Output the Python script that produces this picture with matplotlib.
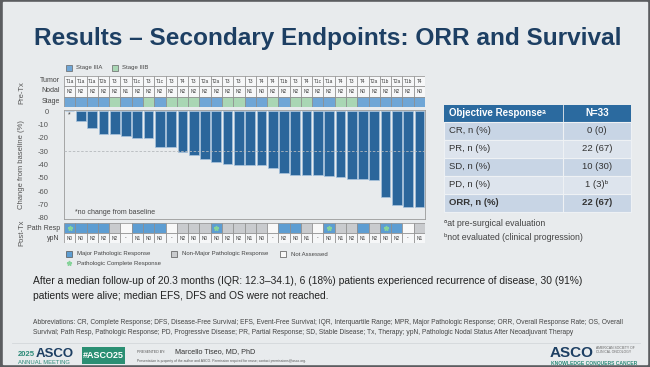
import numpy as np
import matplotlib
matplotlib.use('Agg')
import matplotlib.pyplot as plt
from matplotlib.patches import Rectangle

plt.rcParams['font.family'] = ['Liberation Sans', 'DejaVu Sans']
plt.rcParams['axes.unicode_minus'] = False

# waterfall: best change from baseline (%) per patient
change = [0, -7.5, -12.5, -17, -17, -18.5, -20.5, -20.5, -27, -27, -31, -33,
          -36, -38.5, -39.5, -40.5, -40.5, -40.5, -42.5, -46, -47.5, -47.5,
          -47.5, -48.5, -49.5, -50.5, -50.5, -51.5, -64.5, -70.5, -71.5, -71.5]
tumor = ['T1a', 'T1a', 'T1a', 'T2b', 'T3', 'T3', 'T1c', 'T3', 'T1c', 'T3', 'T4',
         'T3', 'T2a', 'T2a', 'T3', 'T3', 'T3', 'T4', 'T4', 'T1b', 'T3', 'T4',
         'T1c', 'T1a', 'T4', 'T3', 'T4', 'T2a', 'T1b', 'T2a', 'T1b', 'T4']
nodal = ['N2', 'N2', 'N2', 'N2', 'N2', 'N1', 'N2', 'N2', 'N2', 'N2', 'N2',
         'N2', 'N2', 'N2', 'N2', 'N2', 'N1', 'N0', 'N2', 'N2', 'N2', 'N2',
         'N2', 'N2', 'N2', 'N2', 'N0', 'N2', 'N2', 'N2', 'N2', 'N0']
stage = ['IIIA', 'IIIA', 'IIIA', 'IIIA', 'IIIB', 'IIIA', 'IIIA', 'IIIB', 'IIIA',
         'IIIB', 'IIIB', 'IIIB', 'IIIA', 'IIIA', 'IIIB', 'IIIB', 'IIIA', 'IIIA',
         'IIIB', 'IIIA', 'IIIB', 'IIIB', 'IIIA', 'IIIA', 'IIIB', 'IIIB', 'IIIA',
         'IIIA', 'IIIA', 'IIIA', 'IIIA', 'IIIA']
# M = major pathologic response, N = non-major, X = not assessed
path_resp = ['M', 'M', 'M', 'M', 'N', 'X', 'M', 'M', 'M', 'X', 'N', 'N', 'N',
             'M', 'N', 'N', 'N', 'N', 'X', 'M', 'M', 'N', 'X', 'M', 'N', 'N',
             'M', 'N', 'M', 'M', 'X', 'N']
pcr = [1, 0, 0, 0, 0, 0, 0, 0, 0, 0, 0, 0, 0, 1, 0, 0, 0, 0, 0, 0, 0, 0, 0,
       1, 0, 0, 0, 0, 1, 0, 0, 0]
ypn = ['N0', 'N0', 'N2', 'N2', 'N2', '-', 'N1', 'N0', 'N0', '-', 'N2', 'N0',
       'N0', 'N0', 'N2', 'N2', 'N1', 'N0', '-', 'N2', 'N0', 'N1', '-', 'N0',
       'N1', 'N2', 'N1', 'N2', 'N0', 'N2', '-', 'N1']

resp_labels = ['CR, n (%)', 'PR, n (%)', 'SD, n (%)', 'PD, n (%)', 'ORR, n (%)']
resp_values = ['0 (0)', '22 (67)', '10 (30)', '1 (3)\u1d47', '22 (67)']

navy = '#1d3f63'
bar_col = '#2b669b'
stage_cols = {'IIIA': '#6fa6d6', 'IIIB': '#a9d6b4'}
path_cols = {'M': '#5d9dd2', 'N': '#c9cbce', 'X': '#f8f8f8'}
star_col = '#86d39a'
grid_col = '#8c8c8c'
txt = '#3a3a3a'

W, H = 650, 367


def box(x0, y0, x1, y1):
    return [x0 / W, 1 - y1 / H, (x1 - x0) / W, (y1 - y0) / H]


fig = plt.figure(figsize=(6.5, 3.67), dpi=100)
fig.patch.set_facecolor('#5b5d60')

bg = fig.add_axes([0, 0, 1, 1])
bg.set_xlim(0, W)
bg.set_ylim(H, 0)
bg.axis('off')
bg.add_patch(Rectangle((3, 2), 644, 362, color='#e8ebed', zorder=0))

bg.text(327.5, 38, 'Results \u2013 Secondary Endpoints: ORR and Survival', ha='center',
        va='center', fontsize=17.6, fontweight='bold', color=navy)

n = len(change)
xs = np.arange(n)

# --- waterfall ---
ax = fig.add_axes(box(64, 110, 425, 219))
ax.set_facecolor('none')
ax.bar(xs, change, width=0.86, color=bar_col, edgecolor='#a9c4de', linewidth=0.5, zorder=2)
ax.axhline(-30, color='#b5b9bd', linestyle=(0, (3, 2)), linewidth=0.6, zorder=3)
for i, v in enumerate(change):
    if v == 0:
        ax.text(i, -2.5, '*', ha='center', va='center', fontsize=5, color=txt)
ax.set_xlim(-0.5, n - 0.5)
ax.set_ylim(-80.8, 0.8)
ax.set_yticks(np.arange(0, -81, -10))
ax.set_xticks([])
ax.tick_params(axis='y', labelsize=5.5, labelcolor='#555555', length=0, pad=11)
for s in ax.spines.values():
    s.set_color('#9a9a9a')
    s.set_linewidth(0.6)
ax.text(0.03, 0.06, '*no change from baseline', transform=ax.transAxes, fontsize=5,
        color='#444444', va='center')
bg.text(22, 165, 'Change from baseline (%)', rotation=90, ha='center', va='center',
        fontsize=5.5, color='#555555')

# --- pre-treatment table ---
pre = fig.add_axes(box(64, 76, 425, 107))
pre.set_xlim(-0.5, n - 0.5)
pre.set_ylim(3, 0)
pre.axis('off')
for i in range(n):
    pre.add_patch(Rectangle((i - 0.5, 0), 1, 1, facecolor='#f6f7f8', edgecolor=grid_col, lw=0.5))
    pre.add_patch(Rectangle((i - 0.5, 1), 1, 1, facecolor='#f6f7f8', edgecolor=grid_col, lw=0.5))
    pre.add_patch(Rectangle((i - 0.5, 2), 1, 1, facecolor=stage_cols[stage[i]], edgecolor=grid_col, lw=0.5))
    pre.text(i, 0.5, tumor[i], ha='center', va='center', fontsize=3.4, color=txt)
    pre.text(i, 1.5, nodal[i], ha='center', va='center', fontsize=3.4, color=txt)
for lab, y in [('Tumor', 81), ('Nodal', 91), ('Stage', 101.5)]:
    bg.text(60, y, lab, ha='right', va='center', fontsize=5, color='#444444')
bg.text(22, 93, 'Pre-Tx', rotation=90, ha='center', va='center', fontsize=5.5, color='#555555')

bg.add_patch(Rectangle((66, 64.5), 6, 6, facecolor=stage_cols['IIIA'], edgecolor='#666666', lw=0.5))
bg.text(76, 68, 'Stage IIIA', fontsize=4.3, va='center', color='#444444')
bg.add_patch(Rectangle((112, 64.5), 6, 6, facecolor=stage_cols['IIIB'], edgecolor='#666666', lw=0.5))
bg.text(122, 68, 'Stage IIIB', fontsize=4.3, va='center', color='#444444')

# --- post-treatment table ---
post = fig.add_axes(box(64, 223, 425, 243))
post.set_xlim(-0.5, n - 0.5)
post.set_ylim(2, 0)
post.axis('off')
for i in range(n):
    post.add_patch(Rectangle((i - 0.5, 0), 1, 1, facecolor=path_cols[path_resp[i]], edgecolor=grid_col, lw=0.5))
    post.add_patch(Rectangle((i - 0.5, 1), 1, 1, facecolor='#f6f7f8', edgecolor=grid_col, lw=0.5))
    post.text(i, 1.5, ypn[i], ha='center', va='center', fontsize=3.4, color=txt)
pcr_x = [i for i in range(n) if pcr[i]]
post.plot(pcr_x, [0.5] * len(pcr_x), linestyle='none', marker='*', markersize=3.5, color=star_col)
bg.text(60, 228, 'Path Resp', ha='right', va='center', fontsize=5, color='#444444')
bg.text(60, 238, 'ypN', ha='right', va='center', fontsize=5, color='#444444')
bg.text(22, 233, 'Post-Tx', rotation=90, ha='center', va='center', fontsize=5.5, color='#555555')

leg = [(66, path_cols['M'], 'Major Pathologic Response'),
       (171, path_cols['N'], 'Non-Major Pathologic Response'),
       (280, path_cols['X'], 'Not Assessed')]
for x0, c, lab in leg:
    bg.add_patch(Rectangle((x0, 250.5), 6, 6, facecolor=c, edgecolor='#555555', lw=0.5))
    bg.text(x0 + 11, 254, lab, fontsize=4.3, va='center', color='#444444')
bg.plot([69], [263], linestyle='none', marker='*', markersize=3.5, color=star_col)
bg.text(77, 263, 'Pathologic Complete Response', fontsize=4.3, va='center', color='#444444')

# --- objective response table ---
tx0, tx1, tdiv = 444, 631, 563
bg.add_patch(Rectangle((tx0, 105), tx1 - tx0, 17, facecolor='#2b6a9f', edgecolor='none'))
bg.plot([tdiv, tdiv], [105, 122], color='#e8ebed', lw=0.6)
bg.text(tx0 + 5, 113.5, 'Objective Response\u1d43', fontsize=7, fontweight='bold', color='white', va='center')
bg.text(597, 113.5, 'N=33', fontsize=7, fontweight='bold', color='white', va='center', ha='center')
row_h = 17.9
for k, (lab, val) in enumerate(zip(resp_labels, resp_values)):
    y0 = 122 + k * row_h
    fc = '#c8d5e5' if k % 2 == 0 else '#dde4ed'
    bg.add_patch(Rectangle((tx0, y0), tx1 - tx0, row_h, facecolor=fc, edgecolor='#eef1f4', lw=0.8))
    bg.plot([tdiv, tdiv], [y0, y0 + row_h], color='#eef1f4', lw=0.8)
    fw = 'bold' if lab.startswith('ORR') else 'normal'
    bg.text(tx0 + 5, y0 + row_h / 2, lab, fontsize=6.8, color='#333333', va='center', fontweight=fw)
    bg.text(597, y0 + row_h / 2, val, fontsize=6.8, color='#333333', va='center', ha='center', fontweight=fw)
bg.text(tx0, 223, '\u1d43at pre-surgical evaluation', fontsize=6.3, color='#444444', va='center')
bg.text(tx0, 237, '\u1d47not evaluated (clinical progression)', fontsize=6.3, color='#444444', va='center')

# --- summary text ---
bg.text(33, 281, 'After a median follow-up of 20.3 months (IQR: 12.3\u201334.1), 6 (18%) patients '
        'experienced recurrence of disease, 30 (91%)', fontsize=7.4, color='#222222', va='center')
bg.text(33, 296, 'patients were alive; median EFS, DFS and OS were not reached.', fontsize=7.4,
        color='#222222', va='center')
bg.text(33, 322, 'Abbreviations: CR, Complete Response; DFS, Disease-Free Survival; EFS, Event-Free Survival; '
        'IQR, Interquartile Range; MPR, Major Pathologic Response; ORR, Overall Response Rate; OS, Overall',
        fontsize=4.75, color='#444444', va='center')
bg.text(33, 332, 'Survival; Path Resp, Pathologic Response; PD, Progressive Disease; PR, Partial Response; '
        'SD, Stable Disease; Tx, Therapy; ypN, Pathologic Nodal Status After Neoadjuvant Therapy',
        fontsize=4.75, color='#444444', va='center')

# --- footer ---
bg.plot([12, 640], [343, 343], color='#d3d7db', lw=0.6)
bg.text(18, 355, '2025', fontsize=5.5, color='#2b8a78', va='center', fontweight='bold')
bg.text(35.5, 354, 'ASCO', fontsize=9.5, color=navy, va='center', fontweight='bold')
bg.text(18, 363, 'ANNUAL MEETING', fontsize=4.2, color='#2b8a78', va='center')
bg.add_patch(Rectangle((82, 347), 43, 17, facecolor='#2a8f73', edgecolor='none'))
bg.text(103.5, 355.5, '#ASCO25', fontsize=6.5, color='white', va='center', ha='center', fontweight='bold')
bg.text(137, 352, 'PRESENTED BY:', fontsize=2.6, color='#555555', va='center')
bg.text(175, 351.5, 'Marcello Tiseo, MD, PhD', fontsize=5.2, color='#333333', va='center')
bg.text(137, 361, 'Presentation is property of the author and ASCO. Permission required for reuse; '
        'contact permissions@asco.org.', fontsize=2.4, color='#555555', va='center')
bg.text(550, 353, 'ASCO', fontsize=11, color=navy, va='center', fontweight='bold')
bg.text(596, 350, 'AMERICAN SOCIETY OF\nCLINICAL ONCOLOGY', fontsize=2.4, color='#666666',
        va='center', linespacing=1.2)
bg.text(551, 364, 'KNOWLEDGE CONQUERS CANCER', fontsize=3.6, color='#2b8a78', va='center',
        fontweight='bold')

fig.savefig('out.png', dpi=100, facecolor=fig.get_facecolor())
